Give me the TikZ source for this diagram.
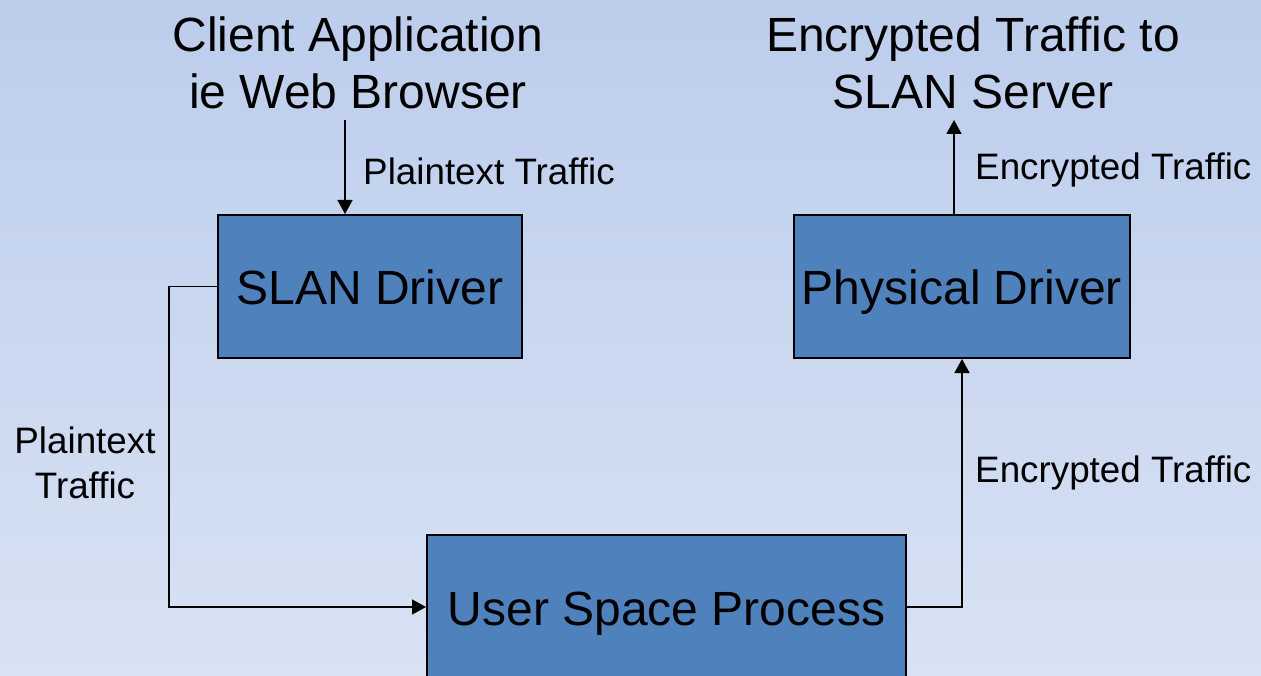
\documentclass[tikz,border=0pt]{standalone}
\usepackage{fontspec}
\setmainfont{Liberation Sans}
\usetikzlibrary{arrows.meta}
\definecolor{boxblue}{RGB}{79,129,189}
\definecolor{bgtop}{RGB}{188,205,236}
\definecolor{bgbot}{RGB}{216,226,243}
\begin{document}
\begin{tikzpicture}[x=1pt,y=-1pt,
  box/.style={draw=black, line width=2pt, fill=boxblue, inner sep=0pt, minimum height=143pt, text height=40pt, text depth=3pt, font=\fontsize{48}{57}\selectfont},
  big/.style={font=\fontsize{48}{57}\selectfont, align=center, inner sep=0pt},
  small/.style={font=\fontsize{36.8}{45}\selectfont, inner sep=0pt},
  conn/.style={line width=1.6pt, -{Triangle[length=14pt,width=15pt]}}]
\useasboundingbox (0,0) rectangle (1261,676);
\clip (0,0) rectangle (1261,676);
\shade[top color=bgtop, bottom color=bgbot] (0,0) rectangle (1261,676);

\node[big] (client) at (358,63) {Client Application\\ie Web Browser};
\node[big] (server) at (973,63) {Encrypted Traffic to\\SLAN Server};

\node[box, minimum width=304pt] (slan) at (370,286.5) {SLAN Driver};
\node[box, minimum width=336pt] (phys) at (962,286.5) {Physical Driver};
\node[box, minimum width=479pt, minimum height=144pt] (user) at (666.5,607) {User Space Process};

\coordinate (c1) at (345,120);
\coordinate (c2) at (954,120);

\draw[conn] (c1) -- (c1 |- slan.north);
\draw[conn] (c2 |- phys.north) -- (c2);
\draw[conn] (slan.west) -- ++(-48,0) |- (user.west);
\draw[conn] (user.east) -| (phys.south);

\node[small, anchor=west] (l1) at (363,171) {Plaintext Traffic};
\node[small, anchor=west] (l2) at (975,170) {Encrypted Traffic};
\node[small, anchor=west] (l3) at (975,473) {Encrypted Traffic};
\node[small, align=center] (l4) at (85,463) {Plaintext\\Traffic};
\end{tikzpicture}
\end{document}
